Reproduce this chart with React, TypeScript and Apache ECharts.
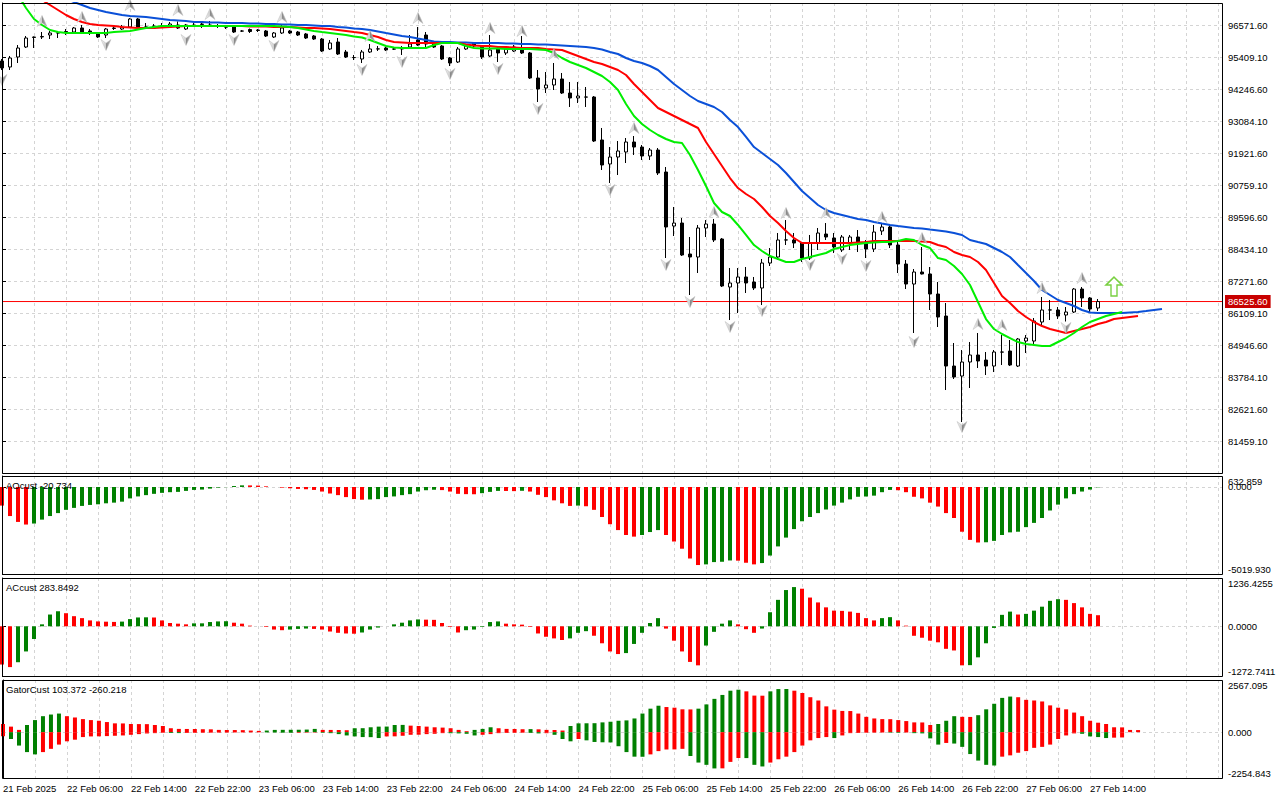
import React, { useEffect, useRef } from 'react';
import * as echarts from 'echarts';

const TIME_LABELS = ['21 Feb 2025', '22 Feb 06:00', '22 Feb 14:00', '22 Feb 22:00', '23 Feb 06:00', '23 Feb 14:00', '23 Feb 22:00', '24 Feb 06:00', '24 Feb 14:00', '24 Feb 22:00', '25 Feb 06:00', '25 Feb 14:00', '25 Feb 22:00', '26 Feb 06:00', '26 Feb 14:00', '26 Feb 22:00', '27 Feb 06:00', '27 Feb 14:00'];

const OPEN = [95264, 95046, 95409, 95772, 96118, 96136, 96208, 96281, 96317, 96317,
  96463, 96354, 96281, 96208, 96445, 96426, 96499, 96790, 96499, 96535,
  96535, 96499, 96572, 96426, 96554, 96590, 96572, 96535, 96499, 96499,
  96354, 96408, 96390, 96354, 96136, 96281, 96354, 96317, 96245, 96172,
  96063, 95700, 95954, 95591, 95391, 95337, 95591, 95700, 95736, 95700,
  95736, 95772, 96027, 96208, 95918, 95809, 95373, 95228, 95700, 95918,
  95809, 95446, 95700, 95555, 95627, 95700, 95555, 94646, 94283, 94392,
  94610, 94101, 93920, 93956, 93956, 92394, 91522, 91776, 91958, 92321,
  92139, 91813, 92030, 91231, 89269, 89378, 88252, 88143, 89197, 89342,
  88797, 87053, 87199, 87417, 87235, 87017, 87925, 88143, 88761, 88761,
  88652, 88107, 88652, 88979, 88834, 88398, 88652, 88870, 88688, 88434,
  89088, 89233, 88579, 87889, 87162, 87598, 87526, 86799, 85999, 84183,
  83820, 84329, 84583, 84401, 84183, 84692, 84728, 84183, 85091, 85091,
  85782, 86218, 86218, 86036, 86145, 86980, 86654, 86291];

const CLOSE = [95010, 95373, 95736, 96099, 96136, 96154, 96281, 96285, 96336, 96463,
  96317, 96317, 96136, 96426, 96463, 96499, 96790, 96463, 96495, 96463,
  96540, 96608, 96463, 96572, 96572, 96608, 96554, 96530, 96495, 96317,
  96350, 96336, 96372, 96172, 96281, 96463, 96281, 96208, 96099, 96063,
  95627, 95918, 95518, 95409, 95388, 95591, 95700, 95705, 95664, 95696,
  95700, 95881, 95845, 95881, 95772, 95337, 95191, 95700, 95809, 95809,
  95409, 95664, 95555, 95700, 95772, 95555, 94646, 94247, 94392, 94610,
  94101, 93920, 93992, 93952, 92357, 91486, 91776, 91994, 92321, 92139,
  91813, 92030, 91195, 89233, 89378, 88216, 88143, 89197, 89342, 88761,
  87090, 87199, 87417, 87199, 87017, 87925, 88143, 88761, 88765, 88652,
  88107, 88652, 89015, 88870, 88507, 88870, 88870, 88652, 88434, 89051,
  89233, 88579, 87889, 87162, 87598, 87526, 86799, 85963, 84183, 83784,
  84329, 84583, 84365, 84183, 84692, 84688, 84219, 85164, 85200, 85818,
  86218, 86222, 85999, 86145, 86980, 86654, 86254, 86525.6];

const HIGH = [95337, 95446, 95845, 96172, 96154, 96317, 96354, 96317, 96426, 96499,
  96572, 96426, 96317, 96463, 96535, 96572, 96826, 96826, 96644, 96608,
  96644, 96681, 96700, 96608, 96644, 96681, 96717, 96608, 96572, 96535,
  96390, 96445, 96426, 96390, 96317, 96572, 96390, 96354, 96281, 96208,
  96099, 96027, 96099, 95664, 95482, 95664, 95881, 95809, 95772, 95772,
  95809, 96208, 96499, 96317, 95954, 95845, 95409, 95772, 95881, 95954,
  95845, 96208, 95772, 95772, 95845, 96172, 95591, 94937, 94864, 95191,
  94828, 94501, 94501, 94319, 93992, 92830, 92139, 92357, 92466, 92539,
  92212, 92103, 92103, 91413, 89960, 89560, 88870, 89306, 89487, 89524,
  88834, 87744, 87744, 87780, 87417, 88071, 88470, 89015, 89487, 89015,
  88690, 88943, 89197, 89378, 89015, 88943, 88943, 89124, 88761, 89306,
  89378, 89306, 88688, 88034, 87707, 88507, 87780, 87235, 86472, 85019,
  84764, 85055, 85382, 84692, 84764, 85309, 85128, 85200, 85309, 85927,
  86690, 86581, 86327, 86327, 87017, 87053, 86690, 86617];

const LOW = [94937, 94937, 95191, 95736, 95736, 96063, 96063, 96099, 96208, 96281,
  96281, 96208, 96099, 96099, 96390, 96390, 96463, 96426, 96426, 96426,
  96463, 96463, 96426, 96390, 96499, 96463, 96499, 96463, 96426, 96281,
  96317, 96281, 96317, 96136, 96099, 96245, 96245, 96172, 96063, 96027,
  95591, 95664, 95482, 95373, 95300, 95191, 95555, 95627, 95627, 95664,
  95482, 95736, 95809, 95772, 95736, 95300, 95082, 95191, 95664, 95772,
  95337, 95409, 95228, 95482, 95591, 95518, 94610, 93774, 94101, 94210,
  94065, 93593, 93738, 93593, 92321, 91304, 90832, 91122, 91558, 91849,
  91667, 91667, 91122, 88107, 88906, 88180, 86763, 87562, 88870, 88688,
  87053, 85854, 86109, 86836, 86944, 86399, 87816, 88034, 88579, 88470,
  87962, 88034, 88398, 88761, 88289, 88325, 88398, 88325, 88107, 88325,
  88943, 88470, 87562, 86980, 85382, 87510, 86218, 85600, 83311, 83711,
  82149, 83384, 84111, 83856, 83965, 84219, 84183, 84147, 84656, 84982,
  85636, 85854, 85890, 85800, 86109, 86327, 86145, 86181];

const JAW = [99478, 99115, 98788, 98497, 98243, 98025, 97843, 97662, 97516, 97407,
  97298, 97189, 97117, 97044, 96990, 96935, 96899, 96881, 96862, 96826,
  96790, 96753, 96735, 96717, 96681, 96681, 96663, 96663, 96644, 96644,
  96644, 96626, 96626, 96608, 96608, 96590, 96590, 96572, 96572, 96554,
  96535, 96535, 96499, 96481, 96445, 96426, 96390, 96336, 96281, 96227,
  96172, 96136, 96081, 96027, 95972, 95954, 95954, 95936, 95936, 95918,
  95918, 95918, 95918, 95900, 95900, 95881, 95881, 95863, 95863, 95845,
  95827, 95809, 95791, 95772, 95736, 95682, 95591, 95518, 95373, 95264,
  95191, 95082, 94937, 94683, 94428, 94210, 93992, 93811, 93702, 93593,
  93411, 93120, 92866, 92503, 92139, 91922, 91704, 91486, 91195, 90868,
  90541, 90287, 90032, 89851, 89742, 89669, 89596, 89524, 89487, 89415,
  89360, 89306, 89269, 89233, 89197, 89179, 89142, 89106, 89070, 89015,
  88943, 88761, 88688, 88616, 88470, 88325, 88143, 87852, 87562, 87271,
  86944, 86763, 86581, 86472, 86363, 86218, 86127, 86109, 86109, 86109,
  86109, 86127, 86145, 86181, 86218, 86254];

const TEETH = [99660, 99115, 98643, 98207, 97807, 97480, 97298, 97117, 96935, 96790,
  96681, 96608, 96572, 96554, 96535, 96499, 96481, 96463, 96463, 96463,
  96481, 96499, 96517, 96535, 96535, 96535, 96535, 96535, 96535, 96535,
  96535, 96517, 96517, 96517, 96499, 96499, 96499, 96481, 96463, 96463,
  96445, 96426, 96390, 96354, 96317, 96281, 96208, 96136, 96027, 95954,
  95936, 95918, 95918, 95918, 95918, 95918, 95918, 95918, 95863, 95827,
  95809, 95809, 95772, 95772, 95754, 95736, 95736, 95736, 95700, 95682,
  95664, 95555, 95446, 95337, 95228, 95155, 95046, 94937, 94755, 94428,
  94138, 93847, 93556, 93411, 93266, 93120, 92975, 92830, 92321, 91885,
  91449, 91013, 90650, 90432, 90250, 89960, 89633, 89378, 89088, 88834,
  88652, 88652, 88652, 88652, 88652, 88652, 88652, 88670, 88688, 88725,
  88725, 88725, 88725, 88725, 88725, 88706, 88688, 88579, 88507, 88325,
  88216, 88143, 87962, 87671, 87199, 86726, 86472, 86181, 85963, 85782,
  85636, 85527, 85455, 85382, 85455, 85527, 85600, 85709, 85782, 85891,
  85927, 85963, 85999];

const LIPS = [98570, 98134, 97662, 97189, 96790, 96572, 96390, 96317, 96281, 96281,
  96281, 96281, 96281, 96281, 96317, 96336, 96354, 96408, 96463, 96499,
  96535, 96535, 96535, 96535, 96535, 96535, 96535, 96535, 96535, 96535,
  96535, 96535, 96535, 96535, 96535, 96517, 96499, 96463, 96408, 96354,
  96317, 96281, 96245, 96208, 96154, 96118, 96027, 95918, 95809, 95754,
  95736, 95736, 95736, 95736, 95845, 95918, 95918, 95918, 95809, 95736,
  95718, 95718, 95718, 95700, 95700, 95700, 95700, 95682, 95664, 95555,
  95373, 95228, 95119, 95010, 94864, 94719, 94501, 94210, 93702, 93266,
  92975, 92757, 92575, 92430, 92321, 92285, 91849, 91304, 90723, 90105,
  89778, 89633, 89306, 88943, 88579, 88361, 88180, 88071, 87962, 87962,
  88071, 88143, 88216, 88289, 88434, 88507, 88579, 88616, 88652, 88670,
  88688, 88688, 88725, 88797, 88761, 88579, 88470, 88107, 88034, 87816,
  87525, 87126, 86508, 85891, 85527, 85346, 85200, 85055, 84982, 84946,
  84910, 84910, 85055, 85200, 85382, 85600, 85782, 85891, 86000, 86073,
  86145];

const FRACTAL_UP_BARS = [5, 10, 16, 22, 26, 35, 46, 52, 61, 65, 69, 79, 89, 98, 103, 110, 115, 122, 125, 130, 135];
const FRACTAL_UP = [96717, 96862, 97298, 97117, 96971, 96862, 96172, 96826, 96463, 96354, 95518, 92830, 89778, 89742, 89742, 89596, 88833, 85709, 85673, 87017, 87380];
const FRACTAL_DOWN_BARS = [0, 13, 23, 29, 34, 45, 50, 56, 62, 67, 76, 83, 86, 91, 95, 101, 105, 108, 114, 120, 133];
const FRACTAL_DOWN = [94574, 95845, 96027, 96027, 95809, 94937, 95228, 94792, 94973, 93520, 90577, 87853, 86508, 85600, 86181, 87853, 88071, 87816, 85055, 81967, 85564];

const SIGNAL_BAR = 139;
const SIGNAL_PRICE = 87071;
const LAST_PRICE = 86525.6;

const AO = [-1074, -1677, -2016, -2167, -2110, -1884, -1677, -1507, -1319, -1206,
  -1093, -1036, -999, -942, -904, -848, -659, -546, -471, -396,
  -339, -301, -283, -226, -170, -151, -94, -38, -10, 57,
  94, 90, 80, 38, 0, -38, -75, -113, -132, -170,
  -264, -377, -471, -584, -697, -735, -720, -700, -584, -546,
  -471, -414, -264, -188, -160, -180, -264, -396, -414, -420,
  -358, -283, -226, -230, -240, -220, -264, -452, -584, -772,
  -942, -1093, -1074, -1112, -1319, -1733, -2148, -2487, -2769, -2864,
  -2769, -2600, -2487, -2769, -3146, -3561, -4126, -4503, -4465, -4333,
  -4314, -4239, -4250, -4371, -4465, -4390, -3956, -3429, -2920, -2430,
  -1978, -1733, -1507, -1300, -1074, -904, -716, -565, -550, -500,
  -301, -170, -188, -301, -565, -659, -904, -1130, -1507, -1790,
  -2581, -3052, -3203, -3190, -3109, -2769, -2619, -2581, -2317, -2072,
  -1790, -1356, -1017, -659, -414, -264, -151, -20.734];

const AC = [-979, -1045, -920, -644, -326, 50, 301, 385, 335, 259,
  209, 151, 125, 118, 112, 120, 184, 226, 230, 225,
  150, 84, 67, 50, 75, 76, 109, 125, 130, 92,
  67, 17, 0, -17, -84, -100, -84, -67, -58, -67,
  -84, -134, -167, -184, -190, -159, -84, -33, 0, 50,
  92, 151, 176, 170, 165, 84, -17, -159, -100, -84,
  -17, 109, 125, 67, 50, 42, -17, -184, -268, -310,
  -351, -310, -167, -125, -242, -435, -644, -711, -686, -452,
  -167, 84, 209, -59, -368, -644, -912, -1000, -493, -142,
  67, 151, 50, -75, -167, -59, 360, 677, 928, 1004,
  962, 736, 611, 485, 401, 395, 376, 343, 209, 151,
  209, 234, 151, 17, -243, -293, -368, -410, -577, -619,
  -1000, -995, -795, -435, -42, 293, 376, 301, 318, 401,
  502, 652, 694, 677, 594, 485, 318, 283.8492];

const GATOR_UP = [402, 273, 112, 354, 595, 787, 868, 916, 787, 723,
  643, 595, 562, 498, 434, 430, 402, 398, 395, 354,
  305, 193, 161, 158, 155, 145, 140, 112, 108, 105,
  100, 80, 64, 80, 112, 115, 118, 120, 128, 161,
  112, 110, 108, 96, 193, 196, 241, 273, 276, 354,
  358, 321, 305, 273, 241, 225, 193, 112, 48, 112,
  161, 241, 193, 161, 158, 145, 150, 140, 112, 108,
  80, 305, 434, 438, 442, 482, 514, 562, 580, 675,
  916, 1157, 1302, 1237, 1205, 1125, 1120, 1157, 1366, 1639,
  1832, 2041, 2089, 2009, 1800, 1795, 2009, 2121, 2125, 2041,
  1928, 1720, 1559, 1270, 1109, 1045, 1040, 916, 755, 675,
  643, 640, 595, 546, 482, 478, 354, 402, 562, 787,
  755, 750, 836, 1125, 1398, 1687, 1752, 1720, 1591, 1559,
  1511, 1318, 1205, 1125, 964, 787, 562, 466, 402, 241,
  236, 110, 103.372];

const GATOR_DOWN = [-200, -337, -659, -980, -1093, -980, -820, -611, -450, -370,
  -241, -209, -205, -193, -177, -161, -129, -96, -64, -48,
  -32, -40, -45, -40, -35, -30, -28, -25, -22, -18,
  -15, -12, -10, -15, -20, -30, -35, -30, -25, -20,
  -30, -48, -96, -161, -209, -241, -245, -289, -209, -205,
  -177, -129, -125, -96, -80, -48, -52, -60, -80, -161,
  -129, -96, -48, -40, -35, -30, -40, -60, -50, -129,
  -337, -450, -337, -402, -482, -498, -505, -691, -980, -1205,
  -1210, -1093, -932, -852, -848, -820, -1173, -1495, -1607, -1784,
  -1780, -1462, -1270, -1275, -1607, -1687, -1495, -1334, -1205, -980,
  -659, -402, -289, -241, -290, -161, -48, -40, -30, -25,
  -20, -25, -30, -20, -48, -60, -305, -611, -530, -560,
  -723, -1077, -1398, -1607, -1640, -1205, -1141, -1012, -932, -771,
  -723, -611, -337, -161, -60, -80, -209, -241, -289, -270,
  -260.218];

const AO_MIN = -5019.93;
const AO_MAX = 632.859;

const GREEN = '#008000';
const RED = '#ff0000';
const GRID_COLOR = '#d4d4d4';
const FONT = '"Liberation Sans", Arial, sans-serif';
const FS = 9.5;
const X_MAX = 152.5;

const PANES = [
  { top: 3, height: 470 },
  { top: 476, height: 98 },
  { top: 578, height: 98 },
  { top: 680, height: 98 },
];

function histogram(values: number[], byMagnitude: boolean) {
  return values.map((v, i) => {
    let rising = false;
    if (i > 0) rising = byMagnitude ? Math.abs(v) > Math.abs(values[i - 1]) : v > values[i - 1];
    return { value: [i, v], itemStyle: { color: rising ? GREEN : RED } };
  });
}

const series2 = (arr: number[]) => arr.map((v, i) => [i, v]);

export default function App() {
  const ref = useRef<HTMLDivElement>(null);
  useEffect(() => {
    document.body.style.margin = '0';
    const chart = echarts.init(ref.current!, null, { renderer: 'svg' });
    const fractalFill = new echarts.graphic.LinearGradient(0, 0, 1, 0, [
      { offset: 0, color: '#f6f6f6' },
      { offset: 0.45, color: '#cfcfcf' },
      { offset: 0.55, color: '#8a8a8a' },
      { offset: 1, color: '#b4b4b4' },
    ]);
    const labelStyle = { color: '#000', fontFamily: FONT, fontSize: FS };
    const splitDash = { show: true, lineStyle: { color: GRID_COLOR, type: [3, 3] as any, width: 1 } };

    const xAxis = PANES.map((_, i) => ({
      type: 'value',
      gridIndex: i,
      min: 0,
      max: X_MAX,
      interval: 4,
      axisLine: { show: false },
      axisTick: { show: false },
      splitLine: splitDash,
      axisLabel: i === 3
        ? {
            ...labelStyle,
            align: 'left',
            margin: 5,
            showMaxLabel: false,
            formatter: (v: number) => (v % 8 === 0 && TIME_LABELS[v / 8]) || '',
          }
        : { show: false },
    }));

    const subAxis = (idx: number, min: number, max: number, interval: number, digits: number, hideVal?: number, showMax = true) => ({
      type: 'value',
      gridIndex: idx,
      position: 'right',
      min,
      max,
      interval,
      axisLine: { show: true, lineStyle: { color: '#000' } },
      axisTick: { show: hideVal === undefined, length: 4, lineStyle: { color: '#000' } },
      axisLabel: {
        ...labelStyle,
        margin: 6,
        showMinLabel: true,
        showMaxLabel: showMax,
        verticalAlignMaxLabel: 'top',
        verticalAlignMinLabel: 'bottom',
        formatter: (v: number) => (hideVal !== undefined && Math.abs(v - hideVal) < 1e-6 ? '' : v.toFixed(digits)),
      },
      splitLine: {
        show: true,
        lineStyle: {
          color: hideVal !== undefined ? [GRID_COLOR, GRID_COLOR, 'rgba(0,0,0,0)', GRID_COLOR] : GRID_COLOR,
          type: [3, 3] as any,
        },
      },
    });

    const yAxis = [
      {
        type: 'value',
        gridIndex: 0,
        position: 'right',
        min: 80296.6,
        max: 97370.82,
        interval: 1162.5,
        axisLine: { show: true, lineStyle: { color: '#000' } },
        axisTick: { show: true, length: 4, lineStyle: { color: '#000' } },
        axisLabel: { ...labelStyle, margin: 6, showMinLabel: false, showMaxLabel: false, formatter: (v: number) => v.toFixed(2) },
        splitLine: splitDash,
      },
      subAxis(1, AO_MIN, AO_MAX, -AO_MIN, 3, undefined, false),
      subAxis(2, -1272.7411, 1236.4255, 1272.7411, 4),
      subAxis(3, -2254.843, 2567.095, 2254.843, 3, 2254.843),
      {
        type: 'value',
        gridIndex: 1,
        position: 'right',
        min: AO_MIN,
        max: AO_MAX,
        interval: AO_MAX - AO_MIN,
        axisLine: { show: false },
        axisTick: { show: false },
        splitLine: { show: false },
        axisLabel: {
          ...labelStyle,
          margin: 6,
          showMinLabel: false,
          showMaxLabel: true,
          verticalAlignMaxLabel: 'top',
          formatter: (v: number) => (Math.abs(v - AO_MAX) < 1e-6 ? v.toFixed(3) : ''),
        },
      },
    ];

    const lineSeries = (data: number[], color: string, z: number) => ({
      type: 'line',
      xAxisIndex: 0,
      yAxisIndex: 0,
      data: series2(data),
      showSymbol: false,
      symbol: 'none',
      clip: true,
      z,
      color,
      lineStyle: { color, width: 2 },
    });

    const option: any = {
      animation: false,
      backgroundColor: '#fff',
      grid: PANES.map((p) => ({ left: 2, top: p.top, width: 1220, height: p.height, show: false })),
      xAxis,
      yAxis,
      series: [
        {
          type: 'line',
          xAxisIndex: 0,
          yAxisIndex: 0,
          z: 1,
          clip: false,
          symbol: 'none',
          showSymbol: false,
          color: '#ff0000',
          emphasis: { disabled: true },
          data: [[0, LAST_PRICE], [X_MAX, LAST_PRICE]],
          lineStyle: { color: '#ff0000', width: 1 },
          endLabel: {
            show: true,
            distance: 3,
            formatter: LAST_PRICE.toFixed(2),
            backgroundColor: '#c80000',
            color: '#fff',
            padding: [2, 3, 1, 3],
            fontFamily: FONT,
            fontSize: FS,
          },
        },
        {
          type: 'candlestick',
          xAxisIndex: 0,
          yAxisIndex: 0,
          clip: false,
          barWidth: 4,
          z: 2,
          encode: { x: 0, y: [1, 2, 3, 4] },
          data: OPEN.map((o, i) => [i, o, CLOSE[i], LOW[i], HIGH[i]]),
          itemStyle: {
            color: '#ffffff',
            color0: '#000000',
            borderColor: '#000000',
            borderColor0: '#000000',
            borderColorDoji: '#000000',
            borderWidth: 1,
          },
        },
        lineSeries(JAW, '#0a50d8', 3),
        lineSeries(TEETH, '#ff0000', 4),
        lineSeries(LIPS, '#00ee00', 5),
        {
          type: 'scatter',
          xAxisIndex: 0,
          yAxisIndex: 0,
          z: 6,
          symbol: 'path://M5,0L10,12L5,8L0,12Z',
          symbolSize: [10, 11],
          itemStyle: { color: fractalFill, borderColor: '#b8b8b8', borderWidth: 0.5, opacity: 1 },
          data: FRACTAL_UP_BARS.map((b, i) => [b, FRACTAL_UP[i]]),
        },
        {
          type: 'scatter',
          xAxisIndex: 0,
          yAxisIndex: 0,
          z: 6,
          symbol: 'path://M0,0L5,4L10,0L5,12Z',
          symbolSize: [10, 11],
          itemStyle: { color: fractalFill, borderColor: '#b8b8b8', borderWidth: 0.5, opacity: 1 },
          data: FRACTAL_DOWN_BARS.map((b, i) => [b, FRACTAL_DOWN[i]]),
        },
        {
          type: 'scatter',
          xAxisIndex: 0,
          yAxisIndex: 0,
          z: 6,
          symbol: 'path://M8,0L16,8L11,8L11,19L5,19L5,8L0,8Z',
          symbolSize: [16, 19],
          itemStyle: { color: '#ffffff', borderColor: '#78d040', borderWidth: 1.5, opacity: 1 },
          data: [[SIGNAL_BAR, SIGNAL_PRICE]],
        },
        {
          type: 'bar',
          xAxisIndex: 1,
          yAxisIndex: 1,
          barWidth: 4,
          data: histogram(AO, false),
        },
        {
          type: 'bar',
          xAxisIndex: 2,
          yAxisIndex: 2,
          barWidth: 4,
          data: histogram(AC, false),
        },
        {
          type: 'bar',
          xAxisIndex: 3,
          yAxisIndex: 3,
          barWidth: 4,
          barGap: '-100%',
          data: histogram(GATOR_UP, true),
        },
        {
          type: 'bar',
          xAxisIndex: 3,
          yAxisIndex: 3,
          barWidth: 4,
          barGap: '-100%',
          data: histogram(GATOR_DOWN, true),
        },
      ],
      graphic: [
        ...PANES.map((p) => ({
          type: 'rect',
          z: 100,
          silent: true,
          shape: { x: 2.5, y: p.top + 0.5, width: 1220, height: p.height },
          style: { fill: 'none', stroke: '#000', lineWidth: 1 },
        })),
        { type: 'text', z: 100, x: 6, y: 485, style: { text: 'AOcust -20.734', fill: '#000', font: `${FS}px ${FONT}`, verticalAlign: 'middle' } },
        { type: 'text', z: 100, x: 6, y: 587, style: { text: 'ACcust 283.8492', fill: '#000', font: `${FS}px ${FONT}`, verticalAlign: 'middle' } },
        { type: 'text', z: 100, x: 6, y: 689, style: { text: 'GatorCust 103.372 -260.218', fill: '#000', font: `${FS}px ${FONT}`, verticalAlign: 'middle' } },
      ],
    };
    chart.setOption(option);
    return () => chart.dispose();
  }, []);
  return <div ref={ref} style={{ width: 1280, height: 800 }} />;
}
